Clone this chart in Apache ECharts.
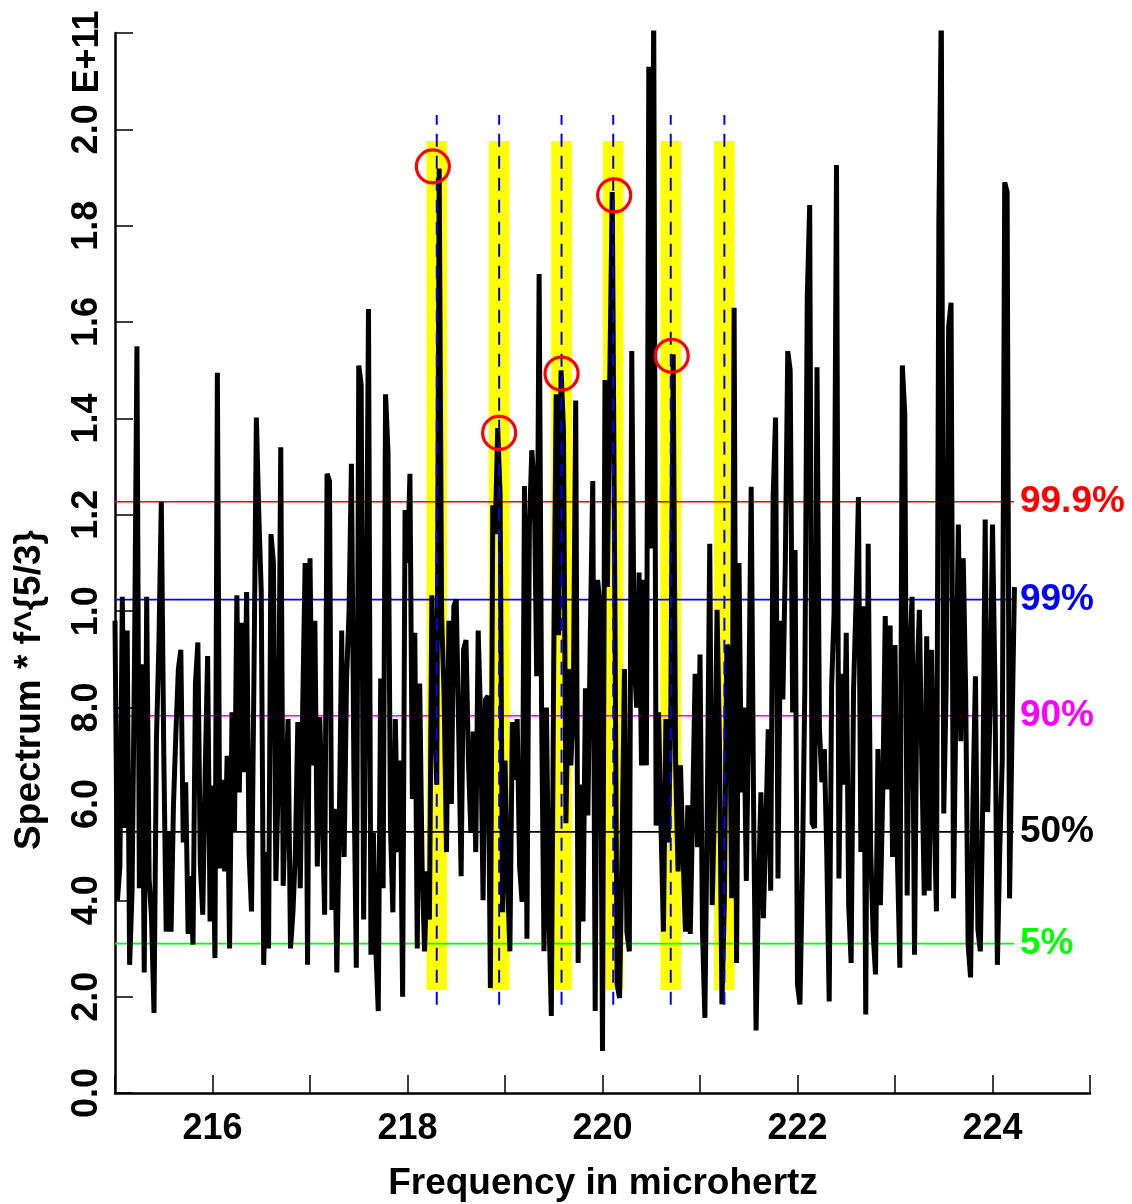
<!DOCTYPE html>
<html><head><meta charset="utf-8">
<script src="https://cdn.jsdelivr.net/npm/echarts@6.0.0/dist/echarts.min.js"></script>
<style>html,body{margin:0;padding:0;background:#fff;overflow:hidden}#c{width:1132px;height:1204px}</style>
</head><body><div id="c"></div><script>
// ---- data (spectrum values in units of 1e10) ----
const freqStart = 215.0;
const freqStep = 0.025;
const spectrum = [
 9.8, 4.0, 4.7, 10.3, 5.5, 9.6, 2.66, 4.2, 9.0, 15.5,
 4.25, 8.9, 2.5, 10.3, 4.45, 3.63, 1.66, 7.35, 9.3, 12.27,
 7.07, 3.35, 5.42, 3.35, 6.0, 7.5, 8.8, 9.2, 5.2, 6.45,
 3.3, 4.5, 3.08, 8.5, 9.35, 4.73, 3.7, 6.66, 9.07, 3.56,
 6.38, 2.8, 14.95, 4.66, 6.5, 4.6, 7.0, 3.0, 7.9, 5.42,
 10.33, 6.24, 9.76, 6.66, 10.4, 5.0, 3.77, 8.6, 14.02, 12.0,
 10.4, 2.66, 5.0, 3.0, 11.6, 11.0, 4.4, 6.5, 13.4, 4.3,
 6.0, 7.76, 3.0, 3.75, 5.0, 7.7, 4.25, 8.0, 11.0, 2.66,
 11.1, 6.8, 9.8, 4.7, 7.8, 6.0, 3.7, 12.85, 12.7, 3.8,
 5.9, 2.5, 5.5, 9.6, 4.9, 8.6, 9.96, 13.06, 6.7, 2.6,
 15.1, 14.7, 3.6, 9.0, 16.27, 2.87, 5.4, 3.0, 1.7, 8.6,
 4.25, 14.5, 13.3, 5.55, 3.75, 7.76, 5.0, 6.9, 2.0, 12.1,
 11.0, 12.85, 6.1, 9.55, 3.0, 8.5, 4.7, 2.94, 4.6, 3.6,
 10.33, 8.1, 6.4, 19.19, 9.9, 8.3, 5.0, 9.8, 6.0, 10.1,
 10.24, 7.5, 4.5, 9.2, 9.4, 6.9, 5.4, 7.5, 5.0, 9.6,
 7.76, 4.0, 8.17, 8.24, 2.18, 12.2, 11.6, 13.8, 12.4, 3.75,
 6.9, 4.5, 2.94, 7.7, 6.5, 7.76, 4.7, 3.97, 12.6, 3.2,
 11.75, 13.34, 12.6, 8.65, 17.0, 8.0, 2.94, 8.0, 3.75, 1.6,
 9.0, 14.5, 9.5, 15.0, 13.75, 5.6, 8.8, 6.8, 8.0, 14.37,
 2.7, 6.4, 3.56, 8.4, 5.76, 9.5, 12.7, 1.7, 10.65, 10.1,
 0.87, 14.8, 10.5, 14.9, 18.7, 10.8, 2.25, 1.97, 5.0, 8.8,
 3.35, 2.94, 15.4, 9.0, 8.0, 10.8, 6.8, 10.65, 6.8, 21.3,
 11.3, 22.5, 5.55, 7.9, 5.55, 3.35, 7.76, 5.2, 7.76, 15.33,
 6.8, 4.6, 6.8, 5.0, 3.35, 5.97, 3.3, 5.9, 8.7, 5.1,
 9.1, 3.4, 1.56, 6.0, 11.4, 3.9, 6.1, 10.03, 7.2, 1.84,
 4.0, 9.3, 9.2, 4.04, 16.3, 2.7, 11.0, 6.24, 8.0, 4.4,
 8.0, 12.58, 5.8, 1.3, 4.25, 6.24, 3.63, 5.5, 7.55, 4.2,
 12.37, 14.02, 4.45, 9.8, 8.17, 11.0, 15.4, 15.0, 7.9, 11.27,
 2.25, 1.84, 4.6, 8.38, 16.5, 18.43, 5.6, 5.5, 15.06, 7.55,
 6.45, 7.14, 5.0, 1.9, 8.45, 9.96, 19.26, 4.45, 8.7, 6.4,
 9.55, 3.9, 2.7, 8.38, 10.17, 12.37, 5.0, 10.1, 1.63, 11.4,
 5.1, 3.35, 2.46, 7.14, 3.9, 6.3, 9.9, 6.3, 9.7, 4.9,
 9.3, 4.85, 2.6, 15.1, 14.1, 4.1, 9.0, 10.3, 2.87, 8.5,
 10.03, 6.9, 4.1, 9.48, 4.2, 9.2, 6.0, 3.77, 18.1, 22.5,
 5.8, 8.45, 15.9, 16.4, 4.04, 8.1, 11.8, 7.3, 11.1, 8.3,
 3.08, 2.4, 6.1, 8.65, 3.4, 2.94, 6.0, 11.9, 5.83, 8.0,
 11.8, 8.5, 2.66, 5.1, 6.9, 18.9, 18.7, 4.04, 7.5, 10.5
];
const yTickLabels = ['0.0','2.0','4.0','6.0','8.0','1.0','1.2','1.4','1.6','1.8','2.0'];
const yExponentLabel = 'E+11';
const xTitle = 'Frequency in microhertz';
const yTitle = 'Spectrum * f^{5/3}';
const thresholdNames = ['99.9%','99%','90%','50%','5%'];
const thresholdValues = [12.27, 10.24, 7.83, 5.42, 3.10];
const bandCenters = [218.30, 218.94, 219.58, 220.11, 220.70, 221.25];
const circleFreqs = [218.26, 218.94, 219.58, 220.12, 220.71];
const circleValues = [19.23, 13.7, 14.93, 18.63, 15.3];

// ---- styling / geometry (not data) ----
const thresholdColors = ['#ff0000','#0000ff','#ff00ff','#000000','#00ff00'];
const thresholdStart = 215.0, thresholdEnd = 224.22;
const bandHalf = 0.106, bandLow = 2.14, bandHigh = 19.76;
const dashLow = 1.83, dashHigh = 20.3;
const FONT = "'Liberation Sans', Arial, Helvetica, sans-serif";

const lineData = spectrum.map((v, i) => [freqStart + i * freqStep, v]);

const series = [];
series.push({
  type: 'line', data: [], z: 1, silent: true, animation: false,
  markArea: {
    silent: true,
    itemStyle: { color: '#ffff00', opacity: 1 },
    data: bandCenters.map(c => [{ xAxis: c - bandHalf, yAxis: bandLow }, { xAxis: c + bandHalf, yAxis: bandHigh }])
  }
});
thresholdValues.forEach((v, k) => {
  series.push({
    type: 'line', z: 2, silent: true, animation: false, symbol: 'none',
    data: [[thresholdStart, v], [thresholdEnd, v]],
    lineStyle: { color: thresholdColors[k], width: 1.6 },
    endLabel: {
      show: true, formatter: thresholdNames[k], color: thresholdColors[k],
      fontSize: 37, fontWeight: 'bold', fontFamily: FONT, distance: 6
    }
  });
});
series.push({
  type: 'line', z: 3, silent: true, animation: false, symbol: 'none',
  data: lineData, clip: true,
  lineStyle: { color: '#000', width: 5 }
});
bandCenters.forEach(c => {
  series.push({
    type: 'line', z: 4, silent: true, animation: false, symbol: 'none',
    data: [[c, dashLow], [c, dashHigh]],
    lineStyle: { color: '#0000ff', width: 2, type: [13, 9] }
  });
});
series.push({
  type: 'scatter', z: 5, silent: true, animation: false,
  symbol: 'circle', symbolSize: 33,
  data: circleFreqs.map((f, i) => [f, circleValues[i]]),
  itemStyle: { color: 'rgba(0,0,0,0)', borderColor: '#ff0000', borderWidth: 3.2, opacity: 1 }
});

const chart = echarts.init(document.getElementById('c'), null, { renderer: 'canvas' });
chart.setOption({
  animation: false,
  backgroundColor: '#fff',
  grid: { left: 115, right: 42, top: 33, bottom: 111, containLabel: false, outerBoundsMode: 'none' },
  xAxis: {
    type: 'value', min: 215, max: 225, interval: 1,
    axisLine: { show: true, onZero: false, lineStyle: { color: '#000', width: 2.5 } },
    axisTick: { show: true, inside: true, length: 18, lineStyle: { color: '#000', width: 1.5 } },
    splitLine: { show: false },
    axisLabel: {
      margin: 18, color: '#000', fontSize: 36, fontWeight: 'bold', fontFamily: FONT,
      formatter: v => (Math.round(v) % 2 === 0 ? String(Math.round(v)) : '')
    }
  },
  yAxis: {
    type: 'value', min: 0, max: 22, interval: 2,
    axisLine: { show: true, onZero: false, lineStyle: { color: '#000', width: 2.5 } },
    axisTick: { show: true, inside: true, length: 18, lineStyle: { color: '#000', width: 1.5 } },
    splitLine: { show: false },
    axisLabel: {
      rotate: 90, margin: 10, color: '#000', fontSize: 36, fontWeight: 'bold', fontFamily: FONT,
      formatter: v => { const k = Math.round(v / 2); return k < yTickLabels.length ? yTickLabels[k] : ''; }
    }
  },
  graphic: [{
    type: 'text', x: 88, y: 52, rotation: Math.PI / 2,
    style: { text: yExponentLabel, fill: '#000', font: 'bold 36px ' + FONT, align: 'center', verticalAlign: 'middle' }
  }, {
    type: 'text', x: 30, y: 690, rotation: Math.PI / 2,
    style: { text: yTitle, fill: '#000', font: 'bold 37px ' + FONT, align: 'center', verticalAlign: 'middle' }
  }, {
    type: 'text', x: 603, y: 1184,
    style: { text: xTitle, fill: '#000', font: 'bold 37px ' + FONT, align: 'center', verticalAlign: 'middle' }
  }],
  series: series
});
</script></body></html>
